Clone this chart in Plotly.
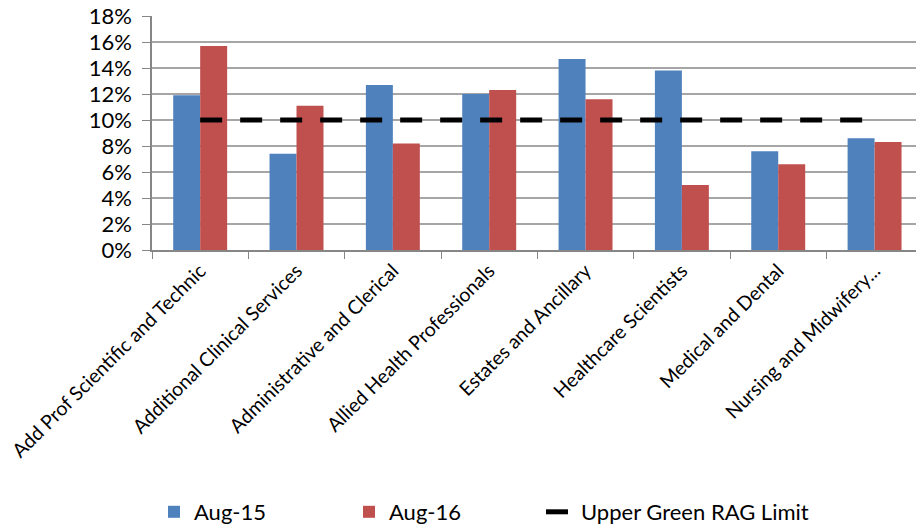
import plotly.graph_objects as go

categories = ["Add Prof Scientific and Technic", "Additional Clinical Services",
              "Administrative and Clerical", "Allied Health Professionals",
              "Estates and Ancillary", "Healthcare Scientists",
              "Medical and Dental", "Nursing and Midwifery..."]
aug15 = [0.119, 0.074, 0.127, 0.120, 0.147, 0.138, 0.076, 0.086]
aug16 = [0.157, 0.111, 0.082, 0.123, 0.116, 0.050, 0.066, 0.083]
rag_limit = [0.10] * 8
y_ticks = [0, 0.02, 0.04, 0.06, 0.08, 0.10, 0.12, 0.14, 0.16, 0.18]

FONT = "Lato, sans-serif"

fig = go.Figure()
fig.add_trace(go.Bar(x=categories, y=aug15, name="Aug-15", legend="legend",
                     marker=dict(color="#4F81BD", line=dict(width=0))))
fig.add_trace(go.Bar(x=categories, y=aug16, name="Aug-16", legend="legend",
                     marker=dict(color="#C0504D", line=dict(width=0))))
fig.add_trace(go.Scatter(x=categories, y=rag_limit, name="Upper Green RAG Limit",
                         legend="legend2", mode="lines",
                         line=dict(color="black", width=5, dash="22px,18px")))

fig.update_layout(
    width=916, height=525,
    margin=dict(l=152, r=0, t=16, b=275),
    paper_bgcolor="white", plot_bgcolor="white",
    barmode="group", bargap=0.44, bargroupgap=0,
    font=dict(family=FONT, size=20, color="black"),
    showlegend=True,
    legend=dict(orientation="h", xref="container", yref="container",
                x=154 / 916, xanchor="left", y=1 - 512 / 525, yanchor="middle",
                font=dict(size=22), itemwidth=30, entrywidth=150, traceorder="normal"),
    legend2=dict(orientation="h", xref="container", yref="container",
                 x=541 / 916, xanchor="left", y=1 - 512 / 525, yanchor="middle",
                 font=dict(size=22), itemwidth=30),
)
fig.update_xaxes(
    range=[-0.5, 7.43], tickangle=-45, tickson="boundaries",
    ticks="outside", ticklen=7, tickcolor="#868686",
    showline=True, linecolor="#868686", linewidth=1.5,
    showgrid=False, tickfont=dict(size=19.5), automargin=False,
)
fig.update_yaxes(
    range=[0, 0.18], tickvals=y_ticks, tickformat=".0%",
    ticks="outside", ticklen=8, tickcolor="#868686",
    showline=True, linecolor="#868686", linewidth=1.5,
    showgrid=True, gridcolor="#A6A6A6", gridwidth=1.5,
    zeroline=False, tickfont=dict(size=22), automargin=False,
    ticklabelstandoff=6,
)

fig.write_html("out.html")
